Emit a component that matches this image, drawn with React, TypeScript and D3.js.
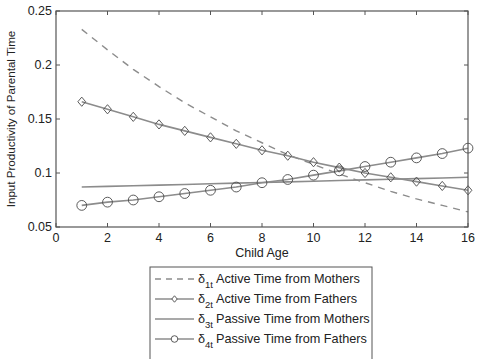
import React from 'react';
import { scaleLinear, line } from 'd3';

const ages = [1, 2, 3, 4, 5, 6, 7, 8, 9, 10, 11, 12, 13, 14, 15, 16];
const activeMothers = [0.233, 0.214, 0.196, 0.180, 0.165, 0.152, 0.139, 0.128, 0.117, 0.108, 0.099, 0.091, 0.083, 0.076, 0.070, 0.064];
const activeFathers = [0.166, 0.159, 0.152, 0.145, 0.139, 0.133, 0.127, 0.121, 0.116, 0.110, 0.105, 0.100, 0.096, 0.092, 0.088, 0.084];
const passiveMothers = [0.087, 0.0876, 0.0882, 0.0888, 0.0894, 0.090, 0.0906, 0.0912, 0.0918, 0.0924, 0.093, 0.0936, 0.0942, 0.0948, 0.0954, 0.096];
const passiveFathers = [0.070, 0.073, 0.075, 0.078, 0.081, 0.084, 0.087, 0.091, 0.094, 0.098, 0.102, 0.106, 0.110, 0.114, 0.118, 0.123];
const xTicks = [0, 2, 4, 6, 8, 10, 12, 14, 16];
const yTicks = [0.05, 0.1, 0.15, 0.2, 0.25];
const legendLabels = ['Active Time from Mothers', 'Active Time from Fathers', 'Passive Time from Mothers', 'Passive Time from Fathers'];
const legendSubs = ['1t', '2t', '3t', '4t'];

const App = () => {
  const width = 477;
  const height = 359;
  const left = 56;
  const right = 468;
  const top = 11;
  const bottom = 227;

  const x = scaleLinear().domain([0, 16]).range([left, right]);
  const y = scaleLinear().domain([0.05, 0.25]).range([bottom, top]);
  const path = (vals: number[]) => line<number>().x((d, i) => x(ages[i])).y((d) => y(d))(vals) || '';

  const lineColor = '#8c8c8c';
  const markColor = '#4a4a4a';
  const axisColor = '#555';
  const font = 'Liberation Sans, Arial, sans-serif';

  const diamond = (cx: number, cy: number, s = 1) =>
    `M${cx},${cy - 4.6 * s}L${cx + 3.9 * s},${cy}L${cx},${cy + 4.6 * s}L${cx - 3.9 * s},${cy}Z`;

  const legX = 150;
  const legY = 267;
  const rowY = [279, 299, 319, 339];

  return (
    <div style={{ position: 'absolute', left: 0, top: 0 }}>
      <svg width={width} height={height} style={{ display: 'block', background: '#fff' }} fontFamily={font}>
        <rect x={left} y={top} width={right - left} height={bottom - top} fill="#fff" />
        {/* series */}
        <path d={path(activeMothers)} fill="none" stroke={lineColor} strokeWidth={1.4} strokeDasharray="7,6" />
        <path d={path(passiveMothers)} fill="none" stroke={lineColor} strokeWidth={1.6} />
        <path d={path(activeFathers)} fill="none" stroke={lineColor} strokeWidth={1.6} />
        <path d={path(passiveFathers)} fill="none" stroke={lineColor} strokeWidth={1.6} />
        {activeFathers.map((d, i) => (
          <path key={'d' + i} d={diamond(x(ages[i]), y(d))} fill="none" stroke={markColor} strokeWidth={0.9} />
        ))}
        {passiveFathers.map((d, i) => (
          <circle key={'c' + i} cx={x(ages[i])} cy={y(d)} r={4.9} fill="none" stroke={markColor} strokeWidth={0.9} />
        ))}
        {/* axes box */}
        <rect x={left} y={top} width={right - left} height={bottom - top} fill="none" stroke={axisColor} strokeWidth={1.2} />
        {xTicks.map((t) => (
          <g key={'xt' + t}>
            <line x1={x(t)} x2={x(t)} y1={bottom} y2={bottom - 4} stroke={axisColor} />
            <line x1={x(t)} x2={x(t)} y1={top} y2={top + 4} stroke={axisColor} />
            <text x={x(t)} y={bottom + 15} textAnchor="middle" fontSize={12.5} fill="#222">{t}</text>
          </g>
        ))}
        {yTicks.map((t) => (
          <g key={'yt' + t}>
            <line x1={left} x2={left + 4} y1={y(t)} y2={y(t)} stroke={axisColor} />
            <line x1={right} x2={right - 4} y1={y(t)} y2={y(t)} stroke={axisColor} />
            <text x={left - 4} y={y(t) + 4} textAnchor="end" fontSize={12.5} fill="#222">{t}</text>
          </g>
        ))}
        <text x={(left + right) / 2} y={bottom + 30} textAnchor="middle" fontSize={12.5} fill="#222">Child Age</text>
        <text transform={`translate(15,${(top + bottom) / 2}) rotate(-90)`} textAnchor="middle" fontSize={11.6} fill="#222">
          Input Productivity of Parental Time
        </text>
        {/* legend */}
        <rect x={legX} y={legY} width={222} height={100} fill="#fff" stroke={axisColor} strokeWidth={1} />
        {legendLabels.map((label, i) => {
          const ry = rowY[i];
          return (
            <g key={'lg' + i}>
              <line x1={155} x2={194} y1={ry} y2={ry} stroke={lineColor} strokeWidth={1.4}
                strokeDasharray={i === 0 ? '6,5' : undefined} />
              {i === 1 && <path d={diamond(174.5, ry, 0.7)} fill="#fff" stroke={markColor} strokeWidth={0.9} />}
              {i === 3 && <circle cx={174.5} cy={ry} r={3.3} fill="#fff" stroke={markColor} strokeWidth={0.9} />}
              <text x={198} y={ry + 4} fontSize={12.7} fill="#222">
                δ<tspan dy={5} fontSize={9.5}>{legendSubs[i]}</tspan>
                <tspan dy={-5} dx={3}>{label}</tspan>
              </text>
            </g>
          );
        })}
      </svg>
    </div>
  );
};

export default App;
